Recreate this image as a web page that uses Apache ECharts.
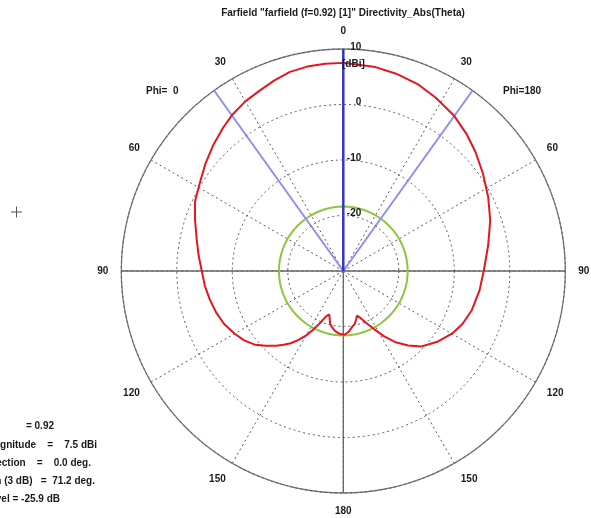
<!DOCTYPE html>
<html><head><meta charset="utf-8">
<script src="https://cdn.jsdelivr.net/npm/echarts@6/dist/echarts.min.js"></script>
<style>html,body{margin:0;padding:0;background:#fff;overflow:hidden}#c{width:591px;height:518px}</style>
</head><body><div id="c"></div>
<script>
// ---- data ----
const titleText = 'Farfield "farfield (f=0.92) [1]" Directivity_Abs(Theta)';
const radiusMin = -30, radiusMax = 10, radiusStep = 10;
const unitLabel = '[dBi]';
const phiLabels = ['Phi=  0', 'Phi=180'];
// Phi = 0 half (drawn on the left), theta in degrees, directivity in dBi
const thetaPhi0 = [0, 5, 10, 15, 20, 25, 30, 35.6, 40, 46, 52, 58, 65, 71, 78, 84, 90, 96, 102, 108, 114, 120, 125, 130, 134, 138, 141, 144, 147, 150, 153, 156, 159, 162, 163.5, 166, 169, 172, 176, 180];
const dbPhi0    = [7.5, 7.5, 7.4, 7.15, 6.5, 5.8, 5.3, 4.5, 3.7, 2.6, 1.5, 0.4, -0.5, -1.75, -3.0, -3.8, -4.5, -4.9, -5.4, -5.9, -6.5, -7.4, -8.2, -9.3, -10.6, -11.9, -12.9, -13.9, -15.2, -16.6, -18.2, -19.8, -21.2, -21.8, -21.3, -20.2, -19.6, -19.1, -18.7, -18.5];
// Phi = 180 half (drawn on the right)
const thetaPhi180 = [0, 9, 15, 22, 28, 35.3, 42, 48, 55, 63, 71, 80, 90, 98, 107, 114, 120, 127, 134, 139, 144, 148, 152, 156, 160, 163, 165, 168, 171, 175, 178, 180];
const dbPhi180    = [7.5, 7.2, 6.8, 6.2, 5.4, 4.4, 3.2, 2.05, 0.7, -0.7, -2.0, -3.5, -4.7, -5.2, -5.8, -6.5, -7.4, -8.8, -10.4, -12.2, -14.2, -16.1, -18.1, -19.7, -21.0, -21.6, -21.0, -20.2, -19.8, -19.0, -18.6, -18.5];
const mainLobeMagnitude = 7.5;   // dBi
const mainLobeDirection = 0.0;   // deg
const angularWidth3dB = 71.2;    // deg
const sideLobeLevel = -25.9;     // dB relative to main lobe
const infoLines = [
  'Frequency           = 0.92',
  'Main lobe magnitude    =    7.5 dBi',
  'Main lobe direction    =    0.0 deg.',
  'Angular width (3 dB)   =  71.2 deg.',
  'Side lobe level = -25.9 dB'
];

// ---- build ----
const FONT = '"Liberation Sans", Arial, sans-serif';
const txt = { fontFamily: FONT, fontWeight: 'bold', fontSize: 10, fill: '#1a1a1a' };

const patternData = [];
for (let i = thetaPhi0.length - 1; i >= 0; i--) patternData.push([dbPhi0[i], 360 - thetaPhi0[i]]);
for (let i = 0; i < thetaPhi180.length; i++) patternData.push([dbPhi180[i], thetaPhi180[i]]);

const sllAbs = mainLobeMagnitude + sideLobeLevel;
const circleData = [];
for (let a = 0; a <= 360; a += 5) circleData.push([sllAbs, a]);

const halfBw = angularWidth3dB / 2;
const lineStyleSeries = (name, data, color, width, z) => ({
  name, type: 'line', coordinateSystem: 'polar', data, symbol: 'none', silent: true,
  lineStyle: { color, width }, z, animation: false
});

const infoRight = [54, 97, 91, 95, 60];
const infoY = [426, 445.5, 463.5, 481.5, 499];

const graphics = [
  { type: 'text', x: 343, y: 13, style: Object.assign({ text: titleText, textAlign: 'center', textVerticalAlign: 'middle' }, txt) },
  { type: 'text', x: 146, y: 91, style: Object.assign({ text: phiLabels[0], textAlign: 'left', textVerticalAlign: 'middle' }, txt) },
  { type: 'text', x: 503, y: 91, style: Object.assign({ text: phiLabels[1], textAlign: 'left', textVerticalAlign: 'middle' }, txt) },
  { type: 'text', x: 342, y: 64, z: 20, style: Object.assign({ text: unitLabel, textAlign: 'left', textVerticalAlign: 'middle' }, txt) },
  { type: 'line', shape: { x1: 11, y1: 212, x2: 22, y2: 212 }, style: { stroke: '#555', lineWidth: 1 } },
  { type: 'line', shape: { x1: 16.5, y1: 206.5, x2: 16.5, y2: 217.5 }, style: { stroke: '#555', lineWidth: 1 } }
];
infoLines.forEach((t, i) => graphics.push({ type: 'text', x: infoRight[i], y: infoY[i],
  style: Object.assign({ text: t, textAlign: 'right', textVerticalAlign: 'middle' }, txt) }));

const chart = echarts.init(document.getElementById('c'), null, { renderer: 'canvas' });
chart.setOption({
  backgroundColor: '#fff',
  animation: false,
  polar: { center: [343.3, 271], radius: 222 },
  angleAxis: {
    type: 'value', min: 0, max: 360, interval: 30, startAngle: 90, clockwise: true,
    axisLine: { lineStyle: { color: '#7a7a7a', width: 1.3 } },
    axisTick: { show: false },
    axisLabel: { margin: 13, color: '#1a1a1a', fontSize: 10, fontWeight: 'bold', fontFamily: FONT,
      formatter: v => v === 360 ? '' : String(v > 180 ? 360 - v : v) },
    splitLine: { lineStyle: { color: '#5a5a5a', type: [2, 3], width: 1 } }
  },
  radiusAxis: {
    type: 'value', min: radiusMin, max: radiusMax, interval: radiusStep, z: 15,
    axisLine: { show: false }, axisTick: { show: false },
    axisLabel: { align: 'right', margin: -18, color: '#1a1a1a', fontSize: 10, fontWeight: 'bold', fontFamily: FONT,
      verticalAlign: 'bottom', padding: [0, 0, -3, 0],
      formatter: v => v === radiusMin ? '' : String(v) },
    splitLine: { lineStyle: { color: '#5a5a5a', type: [2, 3], width: 1 } }
  },
  graphic: graphics,
  series: [
    lineStyleSeries('axisH', [[radiusMax, 90], [radiusMax, 270]], '#666666', 1.3, 3),
    lineStyleSeries('axisV', [[radiusMin, 0], [radiusMax, 180]], '#666666', 1.3, 3),
    lineStyleSeries('sideLobe', circleData, '#8dc63f', 2, 4),
    lineStyleSeries('bw1', [[radiusMin, 0], [radiusMax, mainLobeDirection + halfBw]], '#8f8ff0', 2, 5),
    lineStyleSeries('bw2', [[radiusMin, 0], [radiusMax, 360 - halfBw]], '#8f8ff0', 2, 5),
    lineStyleSeries('pattern', patternData, '#e3171f', 2, 6),
    lineStyleSeries('mainDir', [[radiusMin, 0], [radiusMax, mainLobeDirection]], '#3434c8', 2.5, 7)
  ]
});
</script>
</body></html>
